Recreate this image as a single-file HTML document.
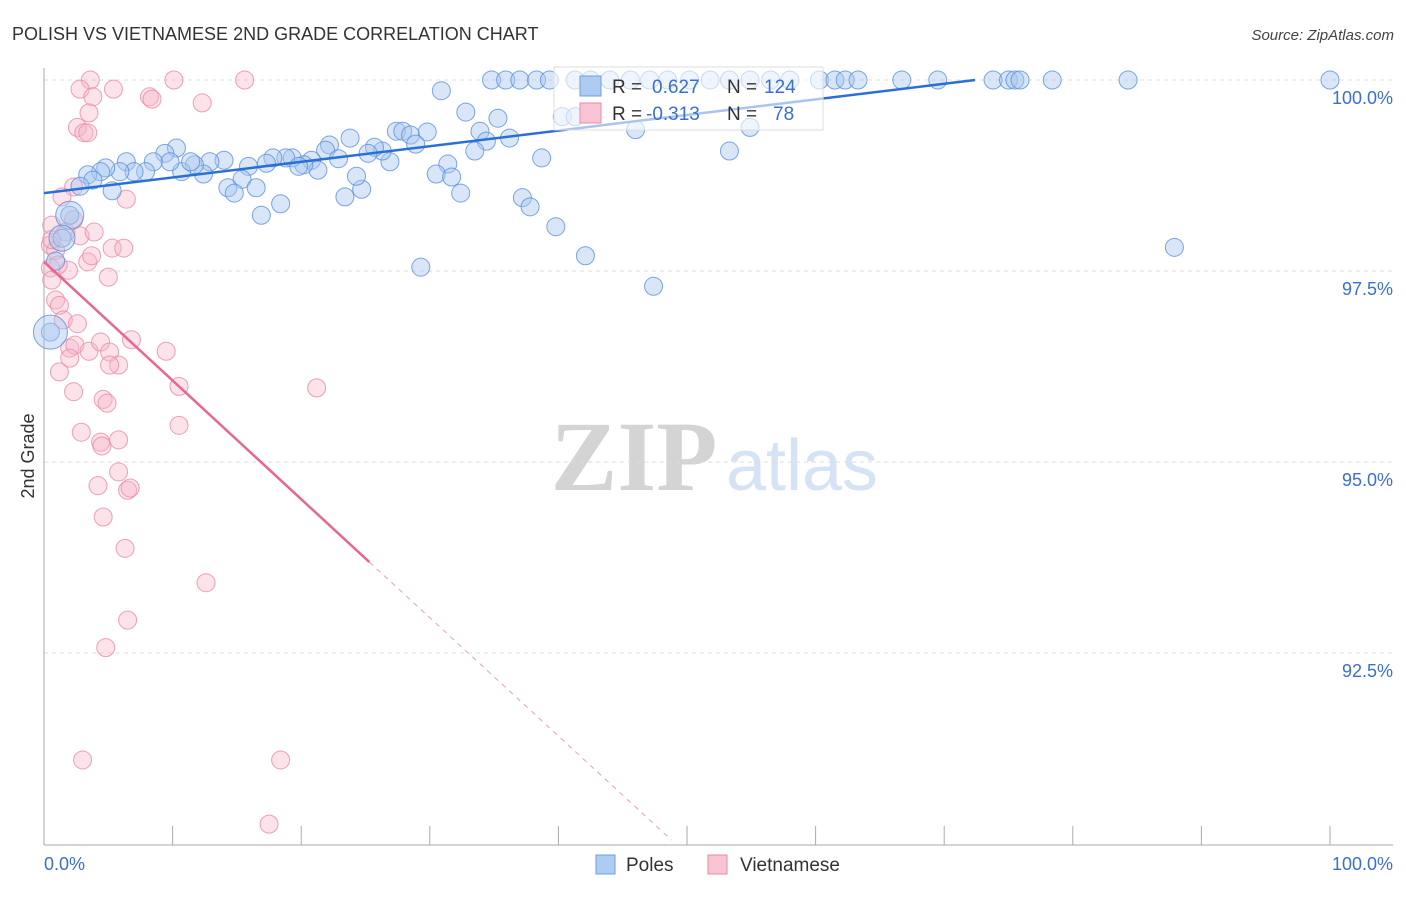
<!DOCTYPE html>
<html><head><meta charset="utf-8"><style>
body{margin:0;background:#fff;font-family:"Liberation Sans",sans-serif;}
svg text{font-family:"Liberation Sans",sans-serif;}
</style></head><body>
<svg id="chart" width="1406" height="892" viewBox="0 0 1406 892" xmlns="http://www.w3.org/2000/svg">
<text x="12" y="40" font-size="18" fill="#333">POLISH VS VIETNAMESE 2ND GRADE CORRELATION CHART</text>
<text x="1394" y="40" font-size="15" fill="#444" text-anchor="end" font-style="italic">Source: ZipAtlas.com</text>
<g>
<text x="634" y="490" font-size="100" fill="#d4d4d4" text-anchor="middle" style="font-family:'Liberation Serif',serif;font-weight:bold">ZIP</text>
<text x="802" y="490" font-size="72" fill="#d6e3f5" text-anchor="middle">atlas</text>
</g>
<g id="grid"></g>
<g id="axes"></g>
<g id="pink"></g>
<g id="blue"></g>
<g id="trends"></g>
<g>
<rect x="554" y="67" width="269" height="63" fill="#fff" fill-opacity="0.6" stroke="#ddd"/>
<rect x="580" y="76" width="21" height="20" fill="#aecbf2" stroke="#6f9ee0"/>
<rect x="580" y="103" width="21" height="20" fill="#f9c4d2" stroke="#e98aa5"/>
<text x="612" y="93" font-size="19" fill="#333">R =</text><text x="652" y="93" font-size="19" fill="#3a6fd0">0.627</text>
<text x="727" y="93" font-size="19" fill="#333">N =</text><text x="764" y="93" font-size="19" fill="#3a6fd0">124</text>
<text x="612" y="120" font-size="19" fill="#333">R =</text><text x="646" y="120" font-size="19" fill="#3a6fd0">-0.313</text>
<text x="727" y="120" font-size="19" fill="#333">N =</text><text x="773" y="120" font-size="19" fill="#3a6fd0">78</text>
</g>
<g>
<rect x="596" y="855" width="19" height="19" fill="#aecbf2" stroke="#6f9ee0"/>
<text x="626" y="871" font-size="19" fill="#333">Poles</text>
<rect x="708" y="855" width="19" height="19" fill="#f9c4d2" stroke="#e98aa5"/>
<text x="740" y="871" font-size="19" fill="#333">Vietnamese</text>
</g>
<text transform="translate(34,456) rotate(-90)" font-size="18" fill="#333" text-anchor="middle">2nd Grade</text>
</svg>
<script>
const yTicks=[100,97.5,95,92.5];
const yTickLabels=["100.0%","97.5%","95.0%","92.5%"];
const xTickLabels=["0.0%","100.0%"];
const polesX=[34.8,35.9,37.0,38.3,39.3,41.3,42.5,44.0,45.6,47.1,48.5,50.2,51.8,53.3,54.9,56.5,58.0,60.3,61.5,62.3,63.3,66.7,69.5,73.8,75.0,75.5,75.9,78.4,84.3,100,
30.9,32.8,35.3,40.3,41.3,33.9,34.4,36.2,33.5,46.0,54.9,53.3,38.7,31.4,30.5,31.7,32.4,37.2,37.8,39.8,42.1,47.4,29.3,87.9,
27.4,27.9,28.5,29.8,28.9,26.9,26.3,25.7,25.2,23.8,22.2,21.9,20.8,22.9,21.3,20.2,19.3,18.8,19.8,17.8,17.3,15.9,15.4,14.3,14.8,16.5,18.4,16.9,23.4,24.7,24.3,
14.0,12.9,12.4,11.7,10.7,11.4,10.3,9.4,9.8,8.5,7.9,6.4,7.0,5.9,4.8,4.4,3.4,3.8,2.8,5.3,2.0,1.4,0.5,0.9];
const polesY=[100,100,100,100,100,100,100,100,100,100,100,100,100,100,100,100,100,100,100,100,100,100,100,100,100,100,100,100,100,100,
99.86,99.58,99.50,99.52,99.52,99.33,99.20,99.24,99.07,99.35,99.38,99.07,98.98,98.90,98.77,98.73,98.52,98.46,98.34,98.08,97.70,97.30,97.55,97.81,
99.33,99.33,99.28,99.32,99.16,98.93,99.07,99.12,99.04,99.24,99.15,99.08,98.95,98.97,98.82,98.89,98.98,98.98,98.87,98.98,98.91,98.87,98.70,98.59,98.52,98.59,98.38,98.23,98.47,98.57,98.74,
98.95,98.93,98.77,98.89,98.80,98.93,99.11,99.04,98.93,98.93,98.80,98.93,98.80,98.80,98.85,98.80,98.76,98.69,98.61,98.55,98.23,97.93,96.70,97.63];
const polesBig=[[2.0,98.23,14],[1.4,97.93,13],[0.5,96.70,17]];
const vietX=[3.6,2.8,3.8,5.4,10.1,15.6,8.2,8.4,12.3,3.5,2.6,3.1,3.4,2.3,6.4,1.4,0.6,2.8,3.9,5.3,6.2,3.4,3.7,1.9,5.0,0.9,1.2,1.5,2.6,6.8,2.0,2.4,3.5,4.4,5.1,5.8,5.1,9.5,1.2,2.0,2.3,4.6,4.9,10.5,21.2,2.9,4.4,4.5,5.8,10.5,5.8,4.2,6.5,6.7,4.6,6.3,12.6,6.5,4.8,3.0,18.4,17.5,0.5,0.5,0.9,1.1,0.6,1.7,2.3,0.6];
const vietY=[100,99.88,99.78,99.88,100,100,99.78,99.75,99.70,99.57,99.38,99.31,99.31,98.60,98.44,98.47,98.10,97.96,98.01,97.80,97.80,97.62,97.70,97.51,97.42,97.12,97.05,96.86,96.81,96.60,96.49,96.53,96.45,96.57,96.44,96.27,96.27,96.45,96.18,96.36,95.92,95.82,95.77,95.99,95.97,95.39,95.26,95.21,95.29,95.48,94.87,94.69,94.63,94.66,94.28,93.87,93.42,92.93,92.57,91.10,91.10,90.26,97.84,97.54,97.77,97.58,97.38,98.01,98.17,97.91];
const blueTrend=[[0,98.52],[72.4,100]];
const pinkTrend=[[0,97.62],[25.3,93.69]];
const pinkDash=[[25.3,93.69],[48.8,90.05]];
const NS="http://www.w3.org/2000/svg";
const X=v=>44+v*12.86, Y=v=>80+(100-v)*76.4;
function mk(tag,at,parent){const e=document.createElementNS(NS,tag);for(const k in at)e.setAttribute(k,at[k]);document.getElementById(parent).appendChild(e);return e;}
yTicks.forEach((t,i)=>{
 const l=mk('line',{x1:44,x2:1393,y1:Y(t),y2:Y(t),stroke:'#ddd','stroke-dasharray':'4,4'},'grid');
 
 
 const tx=mk('text',{x:1393,y:Y(t)+24,'font-size':18,fill:'#3a6fd0','text-anchor':'end'},'grid');
 tx.textContent=yTickLabels[i];
 
 
});
const ax=mk('line',{x1:44,x2:44,y1:68,y2:845,stroke:'#aaa'},'axes');


const bx=mk('line',{x1:44,x2:1393,y1:845,y2:845,stroke:'#aaa'},'axes');


for(let i=0;i<=10;i++){const t=mk('line',{x1:X(i*10),x2:X(i*10),y1:826,y2:845,stroke:'#aaa'},'axes');
 
 }
[[0,'start',44],[100,'end',1393]].forEach((d,i)=>{const t=mk('text',{x:d[2],y:870,'font-size':18,fill:'#3a6fd0','text-anchor':d[1]},'axes');t.textContent=xTickLabels[i];
 
 });
vietX.forEach((x,i)=>{const c=mk('circle',{cx:X(x),cy:Y(vietY[i]),r:9,fill:'#f7b6c8','fill-opacity':0.4,stroke:'#e98aa5','stroke-opacity':0.8},'pink');
 
 });
polesX.forEach((x,i)=>{const c=mk('circle',{cx:X(x),cy:Y(polesY[i]),r:9,fill:'#a9c7ef','fill-opacity':0.45,stroke:'#5b8fdc','stroke-opacity':0.8},'blue');
 
 });
polesBig.forEach(p=>{const c=mk('circle',{cx:X(p[0]),cy:Y(p[1]),r:p[2],fill:'#a9c7ef','fill-opacity':0.45,stroke:'#5b8fdc','stroke-opacity':0.8},'blue');
 
 });
const bl=mk('line',{x1:X(blueTrend[0][0]),y1:Y(blueTrend[0][1]),x2:X(blueTrend[1][0]),y2:Y(blueTrend[1][1]),stroke:'#2a6fd6','stroke-width':2.5},'trends');


const pl=mk('line',{x1:X(pinkTrend[0][0]),y1:Y(pinkTrend[0][1]),x2:X(pinkTrend[1][0]),y2:Y(pinkTrend[1][1]),stroke:'#e8668f','stroke-width':2.5},'trends');


const pd=mk('line',{x1:X(pinkDash[0][0]),y1:Y(pinkDash[0][1]),x2:X(pinkDash[1][0]),y2:Y(pinkDash[1][1]),stroke:'#e8a0b6','stroke-width':1,'stroke-dasharray':'5,5'},'trends');


</script>
</body></html>
